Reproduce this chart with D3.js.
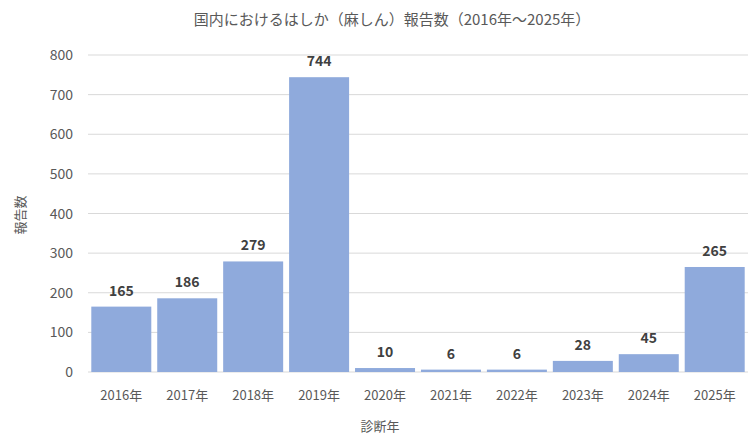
<!DOCTYPE html>
<html><head><meta charset="utf-8">
<script src="https://cdn.jsdelivr.net/npm/d3@7"></script>
<style>body{margin:0;background:#fff}</style>
</head><body><svg id="c"></svg>
<script>
const years = ["2016年","2017年","2018年","2019年","2020年","2021年","2022年","2023年","2024年","2025年"]
const counts = [165,186,279,744,10,6,6,28,45,265]
const yTicks = [0,100,200,300,400,500,600,700,800]

const W = 756, H = 444
const m = {l: 88, r: 8, t: 55, b: 72}
const font = "'Noto Sans CJK JP', 'Noto Sans', sans-serif"
const svg = d3.select("#c").attr("width", W).attr("height", H).style("font-family", font)

const x = d3.scaleBand().domain(years).range([m.l, W - m.r]).paddingInner(0.09).paddingOuter(0.05)
const y = d3.scaleLinear().domain([0, 800]).range([H - m.b, m.t])

svg.append("g").selectAll("line").data(yTicks).join("line")
  .attr("x1", m.l).attr("x2", W - m.r)
  .attr("y1", d => y(d)).attr("y2", d => y(d))
  .attr("stroke", "#d9d9d9")

svg.append("g").selectAll("text").data(yTicks).join("text")
  .attr("x", 73).attr("y", d => y(d) + 5)
  .attr("text-anchor", "end").attr("font-size", 14).attr("fill", "#595959")
  .text(d => d)

svg.append("g").selectAll("rect").data(counts).join("rect")
  .attr("x", (d, i) => x(years[i])).attr("width", x.bandwidth())
  .attr("y", d => y(d)).attr("height", d => y(0) - y(d))
  .attr("fill", "#8faadc")

svg.append("g").selectAll("text").data(counts).join("text")
  .attr("x", (d, i) => x(years[i]) + x.bandwidth() / 2)
  .attr("y", d => y(d) - 11)
  .attr("text-anchor", "middle").attr("font-size", 14).attr("font-weight", "bold").attr("fill", "#404040")
  .text(d => d)

svg.append("g").selectAll("text").data(years).join("text")
  .attr("x", d => x(d) + x.bandwidth() / 2).attr("y", H - m.b + 28)
  .attr("text-anchor", "middle").attr("font-size", 13).attr("fill", "#595959")
  .text(d => d)

svg.append("text").attr("x", 392).attr("y", 25).attr("text-anchor", "middle")
  .attr("font-size", 15).attr("fill", "#595959")
  .text("国内におけるはしか（麻しん）報告数（2016年～2025年）")

svg.append("text").attr("x", 380).attr("y", 431).attr("text-anchor", "middle")
  .attr("font-size", 13).attr("fill", "#595959").text("診断年")

svg.append("text").attr("transform", "translate(25,215) rotate(-90)").attr("text-anchor", "middle")
  .attr("font-size", 13).attr("fill", "#595959").text("報告数")
</script></body></html>
